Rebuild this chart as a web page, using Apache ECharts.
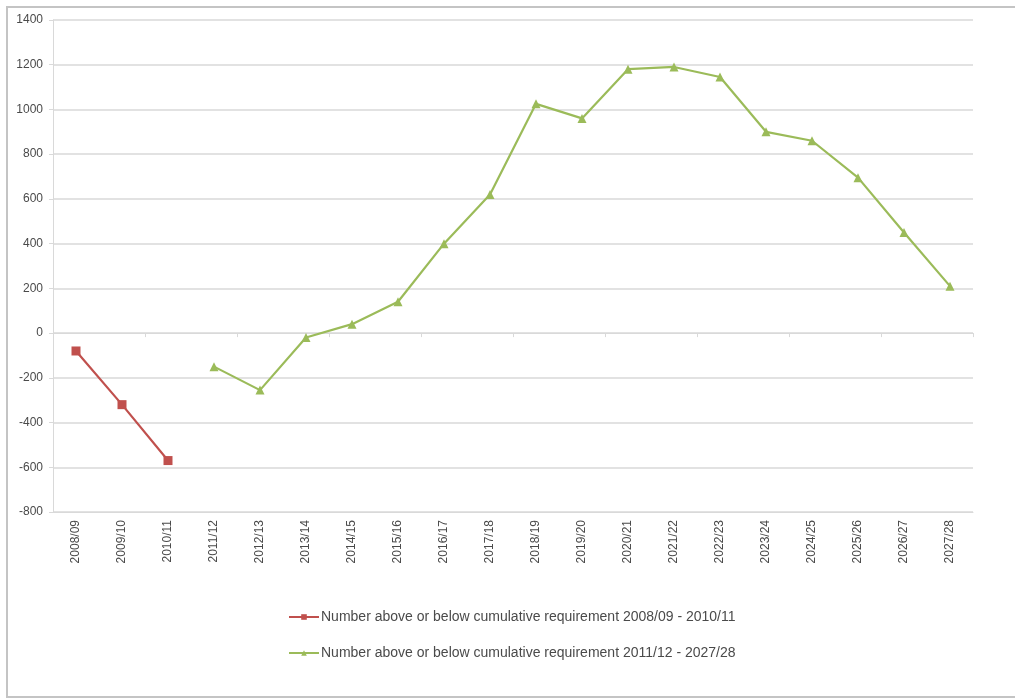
<!DOCTYPE html>
<html>
<head>
<meta charset="utf-8">
<title>Cumulative requirement</title>
<script src="https://cdn.jsdelivr.net/npm/echarts@6/dist/echarts.min.js"></script>
<style>
  html, body { margin: 0; padding: 0; background: #fff; }
  #chart { width: 1015px; height: 700px; }
</style>
</head>
<body>
<div id="chart"></div>
<script>
// Financial years on the category axis
const years = ['2008/09','2009/10','2010/11','2011/12','2012/13','2013/14','2014/15',
  '2015/16','2016/17','2017/18','2018/19','2019/20','2020/21','2021/22','2022/23',
  '2023/24','2024/25','2025/26','2026/27','2027/28'];

// Number above or below cumulative requirement, 2008/09 - 2010/11
const pastValues = [-80, -320, -570, null, null, null, null, null, null, null,
  null, null, null, null, null, null, null, null, null, null];

// Number above or below cumulative requirement, 2011/12 - 2027/28
const planValues = [null, null, null, -150, -255, -20, 40, 140, 400, 620,
  1025, 960, 1180, 1190, 1145, 900, 860, 695, 450, 210];

const seriesNames = [
  'Number above or below cumulative requirement 2008/09 - 2010/11',
  'Number above or below cumulative requirement 2011/12 - 2027/28'
];

const font = 'Liberation Sans, Arial, sans-serif';
const textColor = '#4a4a4a';
const gridColor = '#d9d9d9';

const chart = echarts.init(document.getElementById('chart'));
chart.setOption({
  animation: false,
  backgroundColor: '#ffffff',
  graphic: [{
    type: 'rect',
    shape: { x: 7, y: 7, width: 1030, height: 690 },
    style: { fill: 'none', stroke: '#c4c4c4', lineWidth: 2 },
    silent: true,
    z: -1
  }],
  grid: { left: 53, right: 42, top: 20, bottom: 188, containLabel: false },
  xAxis: [{
    type: 'category',
    data: years,
    position: 'bottom',
    boundaryGap: true,
    axisLine: { show: true, onZero: false, lineStyle: { color: gridColor, width: 1 } },
    axisTick: { show: false },
    axisLabel: {
      rotate: 90, interval: 0, margin: 8,
      fontFamily: font, fontSize: 12, color: textColor
    },
    splitLine: { show: false }
  }, {
    type: 'category',
    data: years,
    position: 'bottom',
    boundaryGap: true,
    axisLine: { show: true, onZero: true, lineStyle: { color: gridColor, width: 1 } },
    axisTick: { show: true, length: 4, lineStyle: { color: gridColor } },
    axisLabel: { show: false },
    splitLine: { show: false }
  }],
  yAxis: {
    type: 'value',
    min: -800, max: 1400, interval: 200,
    axisLine: { show: true, lineStyle: { color: gridColor, width: 1 } },
    axisTick: { show: true, length: 4, lineStyle: { color: gridColor } },
    axisLabel: {
      fontFamily: font, fontSize: 12, color: textColor, margin: 10,
      formatter: v => String(v)
    },
    splitLine: { show: true, lineStyle: { color: gridColor, width: 1.5 } }
  },
  legend: {
    orient: 'vertical',
    left: 283, top: 605,
    itemWidth: 30, itemHeight: 7, itemGap: 22,
    textStyle: { fontFamily: font, fontSize: 14, color: textColor, padding: [0, 0, 0, -3] },
    data: seriesNames
  },
  series: [{
    name: seriesNames[0],
    type: 'line',
    data: pastValues,
    connectNulls: false,
    symbol: 'rect', symbolSize: 9,
    lineStyle: { color: '#c0504d', width: 2.2 },
    itemStyle: { color: '#c0504d' },
    z: 3
  }, {
    name: seriesNames[1],
    type: 'line',
    data: planValues,
    connectNulls: false,
    symbol: 'triangle', symbolSize: 9,
    lineStyle: { color: '#9bbb59', width: 2.2 },
    itemStyle: { color: '#9bbb59' },
    z: 3
  }]
});
</script>
</body>
</html>
